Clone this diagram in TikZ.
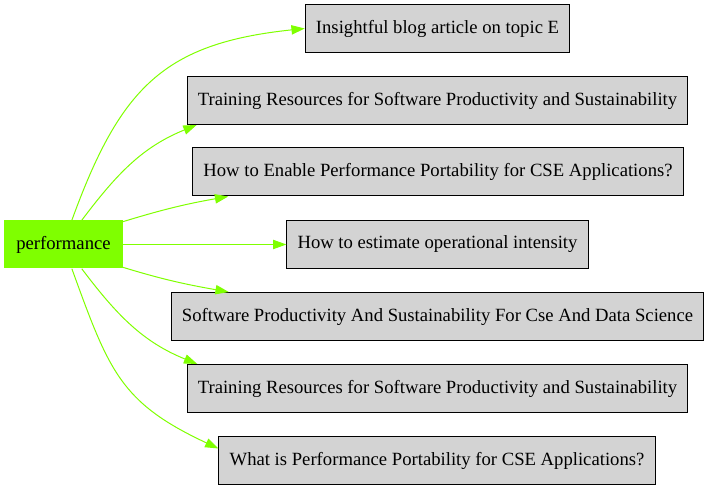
\documentclass[tikz,border=0pt]{standalone}
\usepackage{fontspec}
\setmainfont{Liberation Serif}
\usetikzlibrary{arrows.meta}
\definecolor{lawngreen}{HTML}{7FFF00}
\definecolor{boxgray}{HTML}{D3D3D3}

\begin{document}
\begin{tikzpicture}[x=0.75pt,y=0.75pt,font=\fontsize{14}{16}\selectfont,
    topic/.style={draw=black,fill=boxgray,line width=0.75pt,minimum height=36pt,inner xsep=8pt},
    hub/.style={fill=lawngreen,minimum height=36pt,inner xsep=9pt},
    link/.style={draw=lawngreen,line width=0.75pt,-{Triangle[length=10pt,width=7pt]}}]
    \useasboundingbox (0,0) rectangle (709,491);
    \node[hub] (perf) at (63.5,246.5) {performance};
    \node[topic] (blogE) at (437.5,462.5) {Insightful blog article on topic E};
    \node[topic] (trainTop) at (437.5,390.5) {Training Resources for Software Productivity and Sustainability};
    \node[topic] (enablePP) at (438,319) {How to Enable Performance Portability for CSE Applications?};
    \node[topic] (opIntensity) at (437.5,246.5) {How to estimate operational intensity};
    \node[topic] (swProd) at (437.5,174.5) {Software Productivity And Sustainability For Cse And Data Science};
    \node[topic] (trainBot) at (437.5,102.5) {Training Resources for Software Productivity and Sustainability};
    \node[topic] (whatPP) at (437,30.5) {What is Performance Portability for CSE Applications?};
    % edges fan out from the hub
    \draw[link] (perf.71) to[out=70,in=186,looseness=1.2] (blogE.west);
    \draw[link] (perf.53) to[out=53,in=202] ([xshift=7.5pt]trainTop.south west);
    \draw[link] (perf.21) to[out=17,in=190] ([xshift=27pt]enablePP.south west);
    \draw[link] (perf.east) -- (opIntensity.west);
    \draw[link] (perf.-21) to[out=-17,in=170] ([xshift=43.5pt]swProd.north west);
    \draw[link] (perf.-53) to[out=-53,in=158] ([xshift=8pt]trainBot.north west);
    \draw[link] (perf.-71) to[out=-70,in=155,looseness=1.2] ([yshift=9pt]whatPP.west);
\end{tikzpicture}
\end{document}
